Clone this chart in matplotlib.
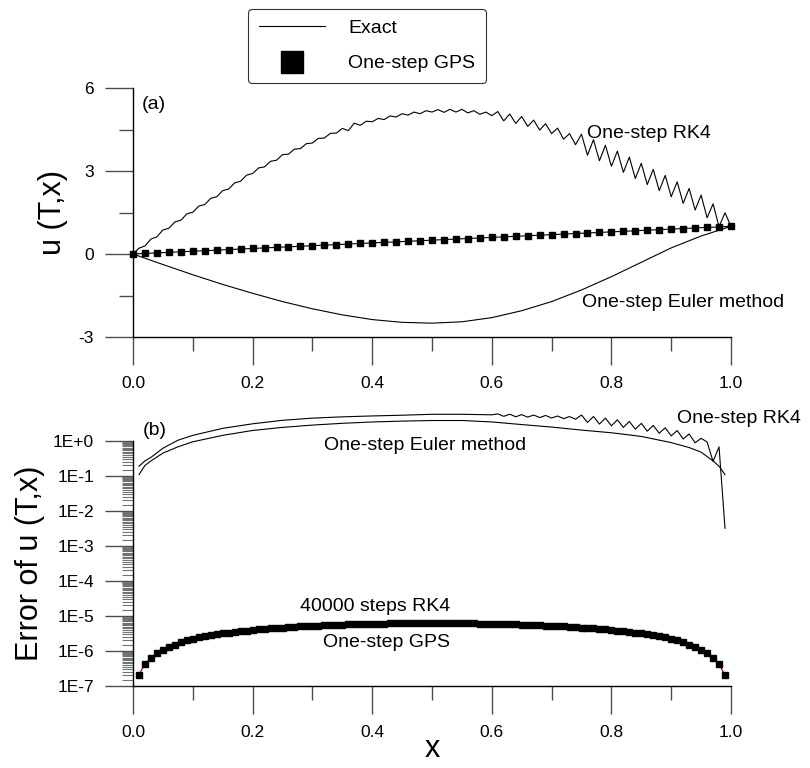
import numpy as np
import matplotlib
matplotlib.use("Agg")
import matplotlib.pyplot as plt
from matplotlib.lines import Line2D
from matplotlib.ticker import FixedLocator, FuncFormatter

plt.rcParams['font.family'] = ['Liberation Sans', 'DejaVu Sans']
plt.rcParams['axes.unicode_minus'] = False

##### DATA #####
# (a) top panel
x_exact = np.linspace(0, 1, 51)
u_exact = [0.00, 0.02, 0.04, 0.06, 0.08, 0.10, 0.12, 0.14, 0.16, 0.18,
           0.20, 0.22, 0.24, 0.26, 0.28, 0.30, 0.32, 0.34, 0.36, 0.38,
           0.40, 0.42, 0.44, 0.46, 0.48, 0.50, 0.52, 0.54, 0.56, 0.58,
           0.60, 0.62, 0.64, 0.66, 0.68, 0.70, 0.72, 0.74, 0.76, 0.78,
           0.80, 0.82, 0.84, 0.86, 0.88, 0.90, 0.92, 0.94, 0.96, 0.98, 1.00]
u_gps = u_exact  # one-step GPS sits on the exact line

x_rk4 = np.linspace(0, 1, 101)
u_rk4 = [0.00, 0.21, 0.29, 0.54, 0.62, 0.87, 0.93, 1.16, 1.22, 1.45,
         1.51, 1.73, 1.79, 2.01, 2.07, 2.29, 2.35, 2.57, 2.63, 2.85,
         2.91, 3.11, 3.15, 3.35, 3.39, 3.59, 3.61, 3.79, 3.81, 3.99,
         4.01, 4.18, 4.19, 4.36, 4.37, 4.54, 4.46, 4.73, 4.65, 4.80,
         4.78, 4.90, 4.86, 4.99, 4.95, 5.07, 5.02, 5.13, 5.07, 5.18,
         5.13, 5.22, 5.12, 5.23, 5.13, 5.23, 5.10, 5.18, 5.05, 5.13,
         5.00, 5.15, 4.81, 5.06, 4.72, 4.97, 4.61, 4.84, 4.48, 4.71,
         4.35, 4.55, 4.15, 4.35, 3.95, 4.33, 3.57, 4.13, 3.37, 3.93,
         3.17, 3.72, 2.95, 3.50, 2.73, 3.28, 2.51, 3.06, 2.29, 2.84,
         2.07, 2.61, 1.83, 2.37, 1.59, 2.13, 1.31, 1.81, 0.99, 1.49, 1.00]

x_euler = np.linspace(0, 1, 21)
u_euler = [0.00, -0.38, -0.75, -1.10, -1.42, -1.72, -1.98, -2.20, -2.37, -2.47,
           -2.50, -2.45, -2.30, -2.05, -1.72, -1.30, -0.82, -0.30, 0.22, 0.65, 1.00]

# (b) bottom panel, errors
x_err = np.linspace(0.01, 0.99, 99)
gps_err_e6 = [0.21, 0.43, 0.64, 0.88, 1.07, 1.30, 1.50, 1.78, 2.03, 2.25,
              2.45, 2.64, 2.83, 3.01, 3.19, 3.36, 3.53, 3.69, 3.85, 4.00,
              4.15, 4.29, 4.43, 4.56, 4.69, 4.81, 4.93, 5.04, 5.15, 5.25,
              5.35, 5.44, 5.53, 5.61, 5.69, 5.76, 5.83, 5.89, 5.95, 6.00,
              6.05, 6.09, 6.13, 6.16, 6.19, 6.21, 6.23, 6.24, 6.25, 6.25,
              6.25, 6.24, 6.23, 6.21, 6.19, 6.16, 6.13, 6.09, 6.05, 6.00,
              5.95, 5.89, 5.83, 5.76, 5.69, 5.61, 5.53, 5.44, 5.35, 5.25,
              5.15, 5.04, 4.93, 4.81, 4.69, 4.56, 4.43, 4.29, 4.15, 4.00,
              3.85, 3.69, 3.53, 3.36, 3.19, 3.01, 2.83, 2.64, 2.45, 2.25,
              2.03, 1.78, 1.50, 1.30, 1.07, 0.88, 0.64, 0.43, 0.20]
rk4_40k_err_e6 = gps_err_e6  # 40000-step RK4 overlaps the GPS error

x_euler_err = [0.01, 0.02, 0.03, 0.05, 0.075, 0.10, 0.15, 0.20, 0.25, 0.30,
               0.35, 0.40, 0.45, 0.50, 0.55, 0.60, 0.65, 0.70, 0.75, 0.80,
               0.85, 0.90, 0.93, 0.95, 0.97, 0.98, 0.99]
euler_err = [0.11, 0.20, 0.27, 0.45, 0.68, 0.95, 1.45, 2.00, 2.45, 2.85,
             3.20, 3.50, 3.70, 3.85, 3.85, 3.50, 2.95, 2.50, 2.05, 1.72,
             1.35, 0.90, 0.65, 0.48, 0.27, 0.19, 0.11]

x_rk4_err = [0.01, 0.02, 0.03, 0.05, 0.075, 0.10, 0.15, 0.20, 0.25, 0.30,
             0.35, 0.40, 0.45, 0.50, 0.55, 0.60,
             0.61, 0.62, 0.63, 0.64, 0.65, 0.66, 0.67, 0.68, 0.69, 0.70,
             0.71, 0.72, 0.73, 0.74, 0.75, 0.76, 0.77, 0.78, 0.79, 0.80,
             0.81, 0.82, 0.83, 0.84, 0.85, 0.86, 0.87, 0.88, 0.89, 0.90,
             0.91, 0.92, 0.93, 0.94, 0.95, 0.96, 0.97, 0.98, 0.99]
rk4_err = [0.19, 0.27, 0.34, 0.62, 1.05, 1.45, 2.30, 3.10, 3.90, 4.50,
           4.90, 5.20, 5.45, 5.80, 5.80, 5.60,
           5.97, 5.06, 5.82, 4.93, 5.67, 4.80, 5.52, 4.67, 5.37, 4.54,
           5.18, 4.36, 4.98, 4.19, 5.53, 3.38, 5.01, 3.05, 4.50, 2.72,
           4.04, 2.45, 3.61, 2.18, 3.19, 1.91, 2.79, 1.66, 2.39, 1.40,
           1.99, 1.14, 1.59, 0.89, 1.19, 0.94, 0.26, 0.68, 0.0032]

##### PLOTS #####
fig = plt.figure(figsize=(8.1, 7.68), dpi=100)
ax1 = fig.add_axes([133/810, 1 - 337/768, 598/810, 249/768])
ax2 = fig.add_axes([133/810, 1 - 686/768, 598/810, 245/768])

tick_col = "0.3"
for ax in (ax1, ax2):
    ax.spines[['top', 'right']].set_visible(False)
    ax.spines[['left', 'bottom']].set_linewidth(1.0)
    ax.set_xlim(0, 1)
    ax.set_xticks([0.0, 0.2, 0.4, 0.6, 0.8, 1.0])
    ax.set_xticklabels(["0.0", "0.2", "0.4", "0.6", "0.8", "1.0"])
    ax.set_xticks([0.1, 0.3, 0.5, 0.7, 0.9], minor=True)
    ax.tick_params(which='major', direction='out', length=20, width=1.0,
                   color=tick_col, labelsize=12.5, pad=8)
    ax.tick_params(which='minor', direction='out', length=10, width=1.0,
                   color=tick_col)

# top panel
ax1.plot(x_rk4, u_rk4, color="black", lw=0.8, clip_on=False)
ax1.plot(x_euler, u_euler, color="black", lw=0.8, clip_on=False)
ax1.plot(x_exact, u_exact, color="black", lw=0.8, clip_on=False)
ax1.plot(x_exact, u_gps, ls="none", marker="s", ms=4.5, color="black", clip_on=False)
ax1.set_ylim(-3, 6)
ax1.set_yticks([-3, 0, 3, 6])
ax1.set_yticks([-1.5, 1.5, 4.5], minor=True)
ax1.set_ylabel("u (T,x)", fontsize=22, labelpad=8)
ax1.text(0.015, 5.4, "(a)", fontsize=14, ha="left", va="center")
ax1.text(0.76, 4.37, "One-step RK4", fontsize=14, ha="left", va="center")
ax1.text(0.75, -1.77, "One-step Euler method", fontsize=14, ha="left", va="center")

# bottom panel
ax2.set_yscale("log")
ax2.plot(x_rk4_err, rk4_err, color="black", lw=0.8, clip_on=False)
ax2.plot(x_euler_err, euler_err, color="black", lw=0.8, clip_on=False)
ax2.plot(x_err, np.array(rk4_40k_err_e6) * 1e-6, color="#7a0000", lw=0.8, clip_on=False)
ax2.plot(x_err, np.array(gps_err_e6) * 1e-6, ls="none", marker="s", ms=4.0,
         color="black", clip_on=False)
ax2.set_ylim(1e-7, 1)
ax2.yaxis.set_major_locator(FixedLocator([1e-7, 1e-6, 1e-5, 1e-4, 1e-3, 1e-2, 1e-1, 1e0]))
ax2.yaxis.set_major_formatter(FuncFormatter(
    lambda v, p: "1E+0" if abs(v - 1) < 1e-9 else f"1E{int(round(np.log10(v)))}"))
minor_locs = [m * 10.0**k for k in range(-7, 0) for m in np.arange(1.5, 10, 0.5)]
ax2.yaxis.set_minor_locator(FixedLocator(minor_locs))
ax2.yaxis.set_minor_formatter(FuncFormatter(lambda v, p: ""))
ax2.tick_params(axis='y', which='minor', length=8, width=0.8, color="0.45")
ax2.set_ylabel("Error of u (T,x)", fontsize=22, labelpad=6)
ax2.set_xlabel("x", fontsize=22, labelpad=-4)
ax2.text(0.017, 2.0, "(b)", fontsize=14, ha="left", va="center")
ax2.text(0.91, 4.4, "One-step RK4", fontsize=14, ha="left", va="center")
ax2.text(0.32, 0.75, "One-step Euler method", fontsize=14, ha="left", va="center")
ax2.text(0.53, 1.9e-5, "40000 steps RK4", fontsize=14, ha="right", va="center")
ax2.text(0.53, 1.8e-6, "One-step GPS", fontsize=14, ha="right", va="center")

# legend
handles = [Line2D([], [], color="black", lw=0.8),
           Line2D([], [], ls="none", marker="s", ms=16, color="black")]
leg = fig.legend(handles, ["Exact", "One-step GPS"], loc="upper left",
                 bbox_to_anchor=(248/810, 1 - 9/768), fontsize=14,
                 handlelength=3.4, handletextpad=1.2, labelspacing=0.9,
                 borderpad=0.55, borderaxespad=0, fancybox=True, frameon=True)
leg.get_frame().set_edgecolor("black")
leg.get_frame().set_linewidth(0.8)

plt.savefig("out.png", dpi=100)
